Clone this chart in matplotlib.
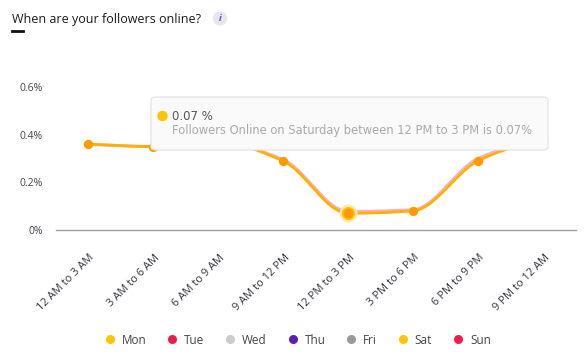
import numpy as np
import matplotlib
matplotlib.use("Agg")
import matplotlib.pyplot as plt
from matplotlib.patches import FancyBboxPatch, Ellipse
from matplotlib.lines import Line2D
from matplotlib.transforms import ScaledTranslation

plt.rcParams['font.family'] = ['Open Sans', 'DejaVu Sans']

# ---------------- data ----------------
time_slots = ["12 AM to 3 AM", "3 AM to 6 AM", "6 AM to 9 AM", "9 AM to 12 PM",
              "12 PM to 3 PM", "3 PM to 6 PM", "6 PM to 9 PM", "9 PM to 12 AM"]
days = ["Mon", "Tue", "Wed", "Thu", "Fri", "Sat", "Sun"]
day_colors = ["#FFC400", "#F5184B", "#CCCCCC", "#5B21B6", "#999999", "#FFC400", "#F5184B"]
sat_values = [0.36, 0.35, 0.37, 0.29, 0.07, 0.08, 0.29, 0.39]
sun_values = [0.36, 0.35, 0.37, 0.295, 0.078, 0.085, 0.30, 0.39]
yticks = [0, 0.2, 0.4, 0.6]
ytick_labels = ["0%", "0.2%", "0.4%", "0.6%"]
highlight_index = 4
tooltip_value = "0.07 %"
tooltip_text = "Followers Online on Saturday between 12 PM to 3 PM is 0.07%"
title = "When are your followers online?"

W, H = 587, 355


def pchip(x, y, n=40):
    x = np.asarray(x, float); y = np.asarray(y, float)
    h = np.diff(x); d = np.diff(y) / h
    m = np.zeros_like(y)
    for k in range(1, len(y) - 1):
        if d[k - 1] * d[k] <= 0:
            m[k] = 0
        else:
            w1 = 2 * h[k] + h[k - 1]; w2 = h[k] + 2 * h[k - 1]
            m[k] = (w1 + w2) / (w1 / d[k - 1] + w2 / d[k])
    m[0] = d[0]; m[-1] = d[-1]
    xs, ys = [], []
    for k in range(len(x) - 1):
        t = np.linspace(0, 1, n)
        h00 = 2*t**3 - 3*t**2 + 1; h10 = t**3 - 2*t**2 + t
        h01 = -2*t**3 + 3*t**2; h11 = t**3 - t**2
        xs.append(x[k] + t * h[k])
        ys.append(h00*y[k] + h10*h[k]*m[k] + h01*y[k+1] + h11*h[k]*m[k+1])
    return np.concatenate(xs), np.concatenate(ys)


def fx(px):
    return px / W


def fy(py):
    return 1 - py / H


def dot(cx, cy, r, color, z):
    return Ellipse((fx(cx), fy(cy)), 2 * r / W, 2 * r / H, transform=fig.transFigure,
                   color=color, zorder=z)


fig = plt.figure(figsize=(W / 100, H / 100), dpi=100)
ax = fig.add_axes([fx(55.5), fy(230), 520 / W, (230 - 87) / H])
n = len(time_slots)
xpos = np.arange(n)
ax.set_xlim(-0.5, n - 0.5)
ax.set_ylim(0, 0.6)

xs, ys = pchip(xpos, sun_values)
ax.plot(xs, ys, color="#F48FB1", lw=2.2, alpha=0.7, solid_capstyle='round', zorder=2)
xs, ys = pchip(xpos, sat_values)
ax.plot(xs, ys, color="#FFB000", lw=2.0, solid_capstyle='round', zorder=3)
ax.scatter(xpos, sat_values, s=45, color="#FF9A00", zorder=4, linewidths=0)
ax.scatter([xpos[highlight_index]], [sat_values[highlight_index]], s=170,
           color="#FFEBB0", zorder=3.5, linewidths=0)
ax.scatter([xpos[highlight_index]], [sat_values[highlight_index]], s=70,
           color="#FF9A00", edgecolors="#FFC400", linewidths=1.2, zorder=5)

for s in ["top", "right", "left"]:
    ax.spines[s].set_visible(False)
ax.spines["bottom"].set_color("#A0A0A0")
ax.spines["bottom"].set_linewidth(1.0)
ax.set_yticks(yticks)
ax.set_yticklabels(ytick_labels, fontsize=7.5, color="#444455")
ax.tick_params(axis='y', length=0, pad=9)
ax.set_xticks(xpos)
ax.set_xticklabels(time_slots, rotation=45, ha='right', va='top',
                   rotation_mode='anchor', fontsize=8, color="#333340")
ax.tick_params(axis='x', length=0, pad=16)
off = ScaledTranslation(1 / 100, 0, fig.dpi_scale_trans)
for lab in ax.get_xticklabels():
    lab.set_transform(lab.get_transform() + off)

# title + underline + info icon
fig.text(fx(12), fy(20), title, fontsize=9, color="#1a1a1a", va='center', ha='left')
fig.add_artist(Line2D([fx(12), fx(23)], [fy(31), fy(31)], color="#111111", lw=2,
                      transform=fig.transFigure))
fig.add_artist(dot(220, 18.5, 6.5, "#E6E6EC", 1))
fig.text(fx(220), fy(18.5), "i", fontsize=6.5, color="#6A3FD0", ha='center', va='center',
         style='italic', fontweight='bold')

# tooltip
box = FancyBboxPatch((fx(151), fy(150)), (548 - 151) / W, (150 - 97) / H,
                     boxstyle="round,pad=0,rounding_size=0.008",
                     transform=fig.transFigure, facecolor="#FAFAFA",
                     edgecolor="#E2E2E2", lw=0.8, zorder=10)
fig.add_artist(box)
fig.add_artist(dot(162.5, 116, 4.5, "#FFC400", 11))
fig.text(fx(172.5), fy(116), tooltip_value, fontsize=8.5, color="#555555",
         va='center', ha='left', zorder=11, family=['DejaVu Sans'])
fig.text(fx(172.5), fy(131), tooltip_text, fontsize=8.3, color="#AAAAAA",
         va='center', ha='left', zorder=11, family=['DejaVu Sans'])

# legend
handles = [Line2D([], [], marker='o', ls='', markersize=6.5, markerfacecolor=c,
                  markeredgewidth=0, label=d) for d, c in zip(days, day_colors)]
leg = fig.legend(handles=handles, loc='center', bbox_to_anchor=(fx(298), fy(340)),
                 ncol=7, frameon=False, fontsize=8.5, handletextpad=0.6,
                 columnspacing=1.8, handlelength=0.8)
for t in leg.get_texts():
    t.set_color("#444444")

fig.savefig("out.png", dpi=100)
